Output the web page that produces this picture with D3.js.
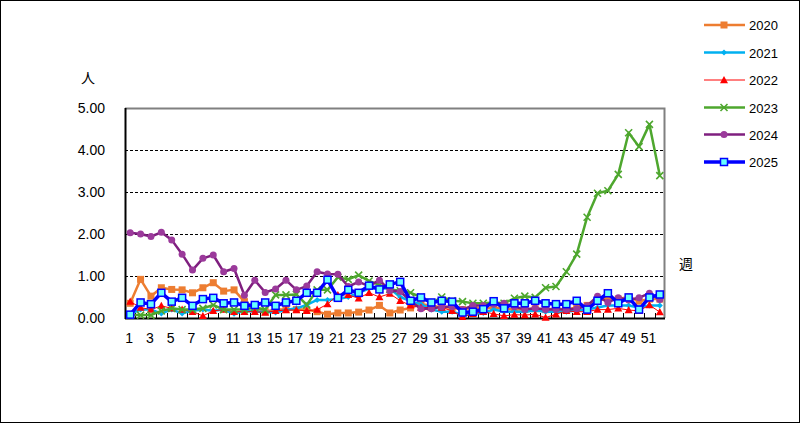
<!DOCTYPE html>
<html><head><meta charset="utf-8">
<script src="https://cdn.jsdelivr.net/npm/d3@7"></script>
<style>html,body{margin:0;padding:0;background:#fff}svg{display:block}text{font-family:"Liberation Sans",Arial,sans-serif;fill:#000}</style>
</head><body><svg id="c" width="800" height="423"></svg>
<script>
const weeks = d3.range(1, 53);
const xTickLabels = d3.range(1, 53, 2);
const yTicks = [0, 1, 2, 3, 4, 5];
const seriesNames = ["2020", "2021", "2022", "2023", "2024", "2025"];
const v2020 = [0.35,0.92,0.52,0.72,0.68,0.67,0.6,0.72,0.84,0.64,0.67,0.39,0.25,0.15,0.2,0.2,0.2,0.2,0.15,0.09,0.12,0.12,0.14,0.19,0.3,0.12,0.19,0.24,0.33,0.3,0.25,0.25,0.2,0.25,0.22,0.25,0.22,0.2,0.2,0.22,0.2,0.22,0.2,0.25,0.3,0.4,0.48,0.45,0.5,0.4,0.45,0.45];
const v2021 = [0.1,0.2,0.2,0.11,0.2,0.11,0.17,0.2,0.17,0.2,0.1,0.17,0.15,0.15,0.13,0.19,0.23,0.31,0.43,0.43,0.45,0.5,0.6,0.7,0.7,0.7,0.5,0.4,0.33,0.2,0.15,0.15,0.08,0.1,0.12,0.2,0.15,0.15,0.15,0.18,0.15,0.15,0.15,0.18,0.2,0.25,0.3,0.3,0.3,0.25,0.3,0.3];
const v2022 = [0.39,0.25,0.2,0.29,0.23,0.2,0.15,0.05,0.17,0.2,0.15,0.15,0.15,0.13,0.17,0.19,0.19,0.17,0.2,0.33,0.55,0.55,0.47,0.6,0.5,0.58,0.41,0.3,0.25,0.25,0.25,0.17,0.03,0.1,0.15,0.1,0.05,0.08,0.07,0.09,0.01,0.09,0.17,0.15,0.15,0.2,0.2,0.23,0.19,0.17,0.31,0.14];
const v2023 = [0.07,0.07,0.07,0.17,0.23,0.2,0.2,0.23,0.31,0.2,0.2,0.2,0.25,0.2,0.55,0.55,0.56,0.31,0.67,0.67,0.97,0.92,1.02,0.88,0.79,0.68,0.65,0.6,0.5,0.35,0.5,0.41,0.39,0.35,0.35,0.37,0.35,0.47,0.52,0.49,0.72,0.75,1.1,1.52,2.4,2.97,3.03,3.42,4.41,4.08,4.61,3.39];
const v2024 = [2.03,2.0,1.94,2.04,1.86,1.52,1.14,1.42,1.5,1.1,1.18,0.54,0.9,0.61,0.69,0.9,0.67,0.76,1.1,1.05,1.04,0.75,0.86,0.76,0.9,0.65,0.63,0.4,0.22,0.22,0.27,0.27,0.2,0.3,0.3,0.33,0.35,0.27,0.2,0.23,0.2,0.2,0.2,0.22,0.29,0.52,0.37,0.48,0.43,0.48,0.59,0.44];
const v2025 = [0.08,0.37,0.33,0.6,0.39,0.48,0.29,0.45,0.48,0.35,0.37,0.29,0.31,0.37,0.29,0.37,0.41,0.6,0.6,0.91,0.48,0.67,0.6,0.77,0.68,0.8,0.86,0.41,0.49,0.37,0.41,0.39,0.13,0.15,0.21,0.4,0.23,0.35,0.35,0.41,0.35,0.33,0.33,0.41,0.2,0.41,0.59,0.35,0.49,0.2,0.49,0.56];
const seriesValues = [v2020, v2021, v2022, v2023, v2024, v2025];

const styles = [
  {color:"#ED7D31", width:2.5, marker:"square", mfill:"#ED7D31", mstroke:"#ED7D31", size:7},
  {color:"#00B0F0", width:2.5, marker:"diamond", mfill:"#00B0F0", mstroke:"#00B0F0", size:6},
  {color:"#FF0000", width:1, marker:"triangle", mfill:"#FF0000", mstroke:"#FF0000", size:8},
  {color:"#4EA72E", width:2.5, marker:"x", mfill:"none", mstroke:"#4EA72E", size:7},
  {color:"#7F1F7F", width:2.5, marker:"circle", mfill:"#9B3A9B", mstroke:"#9B3A9B", size:7},
  {color:"#0000FF", width:3.5, marker:"square", mfill:"#66FFFF", mstroke:"#0000FF", size:7}
];

const svg = d3.select("#c");
const L = 125, R = 665, T = 108, B = 318;
const x = d3.scaleBand().domain(weeks).range([L, R]).padding(0);
const y = d3.scaleLinear().domain([0, 5]).range([B, T]);
const cx = d => x(d) + x.bandwidth() / 2;

svg.append("rect").attr("x",0.5).attr("y",0.5).attr("width",799).attr("height",422)
  .attr("fill","none").attr("stroke","#000").attr("stroke-width",1);

svg.append("g").selectAll("line").data(yTicks.filter(t => t > 0 && t < 5)).join("line")
  .attr("x1", L).attr("x2", R).attr("y1", d => Math.round(y(d)) + 0.5).attr("y2", d => Math.round(y(d)) + 0.5)
  .attr("stroke","#000").attr("stroke-width",1).attr("stroke-dasharray","3,2");

svg.append("path").attr("d", `M${L},${T+0.5}H${R-0.5}V${B}`).attr("fill","none").attr("stroke","#808080").attr("stroke-width",2);

const yAxis = d3.axisLeft(y).tickValues(yTicks).tickFormat(d3.format(".2f")).tickSize(0).tickPadding(20);
const gy = svg.append("g").attr("transform", `translate(${L},0)`).call(yAxis);
gy.select(".domain").remove();
gy.selectAll("text").attr("font-size", 14).style("font-family", "'Liberation Sans',Arial,sans-serif");
svg.append("line").attr("x1", L+0.5).attr("x2", L+0.5).attr("y1", T).attr("y2", B+1).attr("stroke","#000").attr("stroke-width",2);

const xAxis = d3.axisBottom(x).tickValues(xTickLabels).tickSize(0).tickPadding(15);
const gx = svg.append("g").attr("transform", `translate(-1,${B})`).call(xAxis);
gx.select(".domain").remove();
gx.selectAll("text").attr("font-size", 14).style("font-family", "'Liberation Sans',Arial,sans-serif");
svg.append("line").attr("x1", L).attr("x2", R).attr("y1", B+0.5).attr("y2", B+0.5).attr("stroke","#000").attr("stroke-width",2);
svg.append("g").selectAll("line").data(weeks.slice(1)).join("line")
  .attr("x1", d => Math.round(x(d)) + 0.5).attr("x2", d => Math.round(x(d)) + 0.5)
  .attr("y1", B).attr("y2", B - 5).attr("stroke","#000").attr("stroke-width",1);

svg.append("text").attr("x", 88).attr("y", 83).attr("text-anchor","middle").attr("font-size",14)
  .style("font-family","'Noto Sans CJK JP',sans-serif").text("人");
svg.append("text").attr("x", 686).attr("y", 269).attr("text-anchor","middle").attr("font-size",14)
  .style("font-family","'Noto Sans CJK JP',sans-serif").text("週");

function drawMarker(g, m, st) {
  const s = st.size, h = s / 2;
  if (m === "square") {
    g.append("rect").attr("x",-h).attr("y",-h).attr("width",s).attr("height",s)
      .attr("fill",st.mfill).attr("stroke",st.mstroke).attr("stroke-width", st.mfill === st.mstroke ? 0 : 1.5);
  } else if (m === "diamond") {
    g.append("path").attr("d",`M0,${-h}L${h},0L0,${h}L${-h},0Z`).attr("fill",st.mfill);
  } else if (m === "triangle") {
    g.append("path").attr("d",`M0,${-h}L${h},${h*0.8}L${-h},${h*0.8}Z`).attr("fill",st.mfill);
  } else if (m === "x") {
    g.append("path").attr("d",`M${-h},${-h}L${h},${h}M${-h},${h}L${h},${-h}`).attr("stroke",st.mstroke).attr("stroke-width",1.6).attr("fill","none");
  } else if (m === "circle") {
    g.append("circle").attr("r",h).attr("fill",st.mfill);
  }
}

const line = d3.line().x(d => cx(d.w)).y(d => y(d.v));
seriesValues.forEach((vals, i) => {
  const st = styles[i];
  const data = vals.map((v, j) => ({w: weeks[j], v}));
  const g = svg.append("g");
  g.append("path").datum(data).attr("d", line).attr("fill","none")
    .attr("stroke", st.color).attr("stroke-width", st.width).attr("stroke-linejoin","round");
  data.forEach(d => {
    const mg = g.append("g").attr("transform", `translate(${cx(d.w)},${y(d.v)})`);
    drawMarker(mg, st.marker, st);
  });
});

const legY = [25, 52.5, 80, 107.5, 134.5, 162];
seriesNames.forEach((name, i) => {
  const st = styles[i];
  const g = svg.append("g").attr("transform", `translate(0,${legY[i]})`);
  g.append("line").attr("x1",704).attr("x2",745).attr("y1",0).attr("y2",0).attr("stroke",st.color).attr("stroke-width",st.width);
  const mg = g.append("g").attr("transform","translate(724,0)");
  drawMarker(mg, st.marker, st);
  g.append("text").attr("x",749).attr("y",5).attr("font-size",13).text(name);
});
</script></body></html>
